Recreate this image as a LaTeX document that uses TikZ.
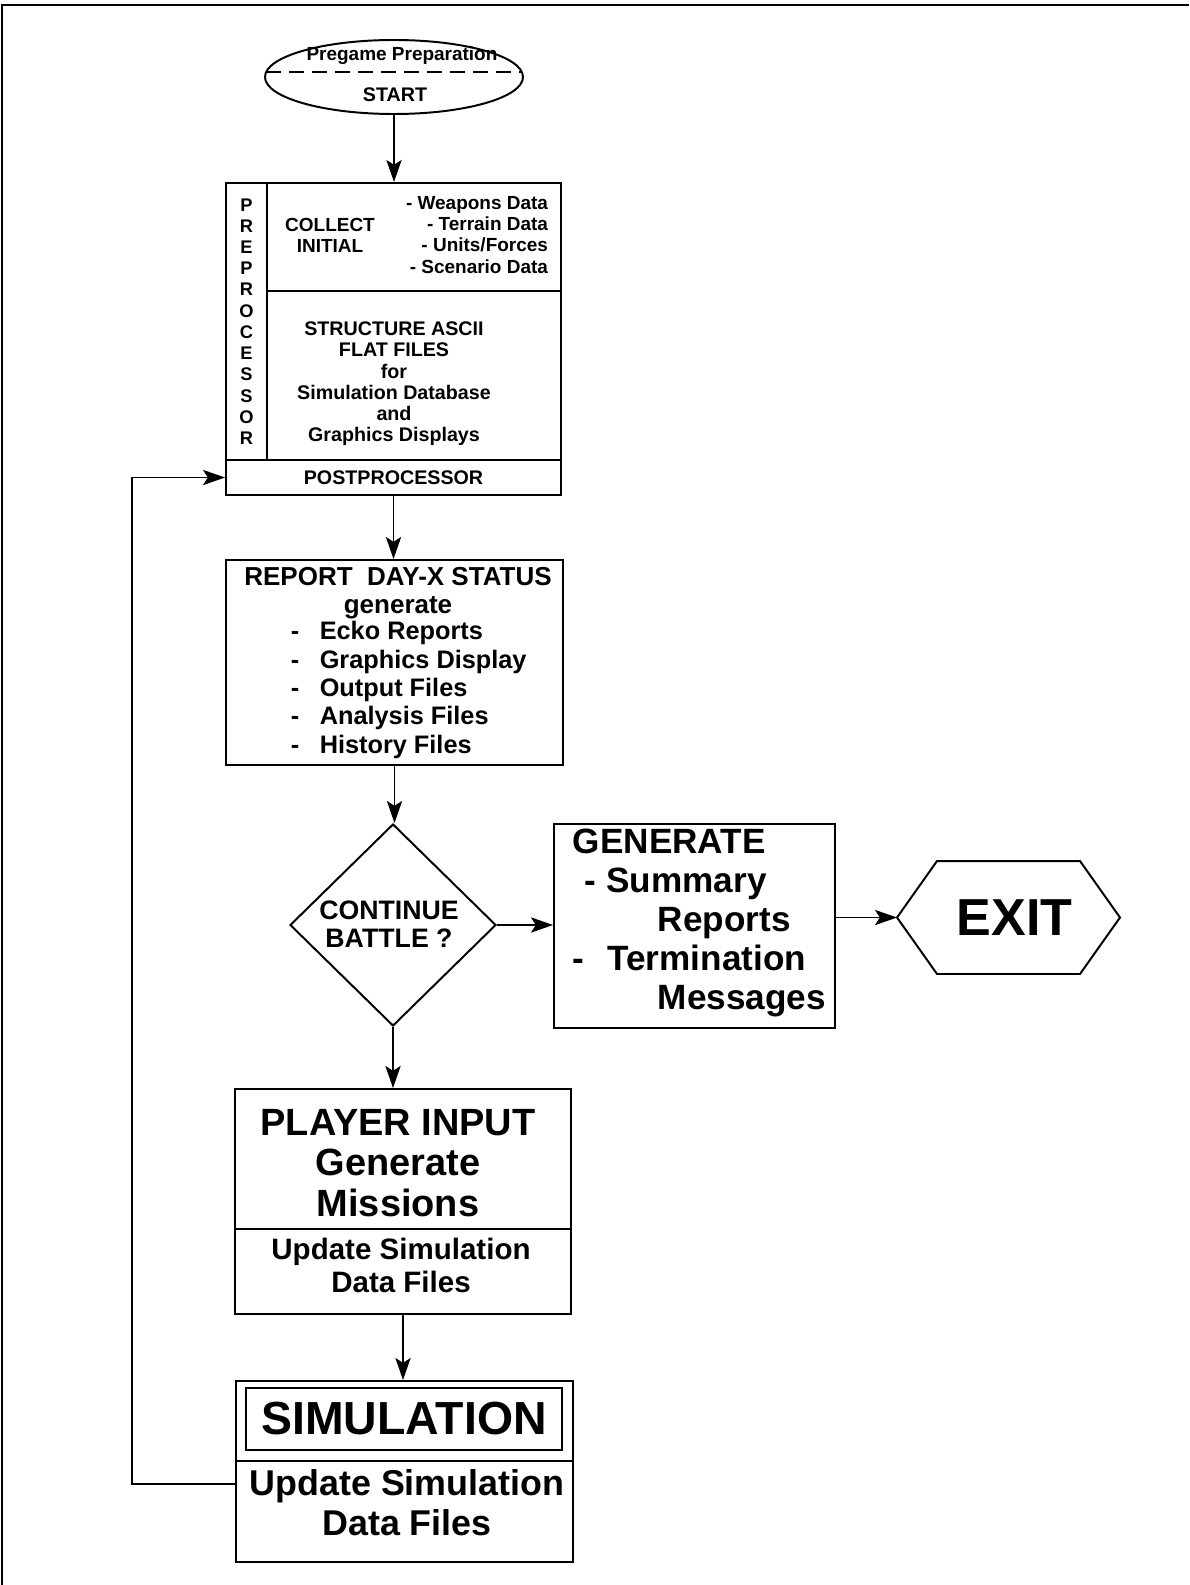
\documentclass[tikz,border=0pt]{standalone}
\usepackage{fontspec}
\setmainfont{Liberation Sans}
\usetikzlibrary{arrows.meta,shapes.geometric,calc}

\begin{document}
\begin{tikzpicture}[x=0.25mm,y=-0.25mm,
    line width=1.4pt,
    >={Stealth[length=5.5mm,width=3.8mm,inset=1.2mm]},
    box/.style={draw,rectangle,inner sep=0pt},
    txt/.style={inner sep=0pt,align=center,font=\bfseries},
    fnt/.style 2 args={font=\bfseries\fontsize{#1}{#2}\selectfont}]
    \useasboundingbox (0,0) rectangle (1189,1585);
    \draw[line width=2pt] (2,1585) -- (2,5) -- (1189,5);

    \node[draw,ellipse,inner sep=0pt,minimum width=64.5mm,minimum height=18.5mm] (ell) at (394,77) {};
    \draw[line width=0.9pt,dash pattern=on 3.75mm off 2mm] (266,72) -- (522,72);
    \node[txt,fnt={13.5}{15}] (prep) at (402,56) {Pregame Preparation};
    \node[txt,fnt={14}{15}] (start) at (395,95) {START};

    \node[box,txt,fnt={13}{15.1},minimum width=10.25mm,minimum height=69.25mm] (pcol) at (246.5,321.5) {P\\R\\E\\P\\R\\O\\C\\E\\S\\S\\O\\R};
    \node[box,minimum width=73.5mm,minimum height=27mm] (coll) at (414,237) {};
    \node[box,minimum width=73.5mm,minimum height=42.25mm] (strc) at (414,375.5) {};
    \node[box,txt,fnt={14}{15},minimum width=83.75mm,minimum height=8.75mm] (post) at (393.5,477.5) {POSTPROCESSOR};
    \node[txt,fnt={13.5}{15}] (colt) at (330,235.5) {COLLECT\\INITIAL};
    \node[txt,fnt={13.5}{15},anchor=east,align=right] (wlist) at (549,235) {- Weapons Data\\- Terrain Data\\- Units/Forces\\- Scenario Data};
    \node[txt,fnt={14}{15.1}] (stxt) at (394,384) {STRUCTURE ASCII\\FLAT FILES\\for\\Simulation Database\\and\\Graphics Displays};

    \node[box,minimum width=84.25mm,minimum height=51.25mm] (rep) at (394.5,662.5) {};
    \node[txt,fnt={18.5}{20.2}] (rtit) at (398,593) {REPORT\ \ DAY-X STATUS\\generate};
    \node[txt,fnt={18}{20.2},anchor=west,align=left] (rlist) at (290,690) {\makebox[20.5pt][l]{-}Ecko Reports\\\makebox[20.5pt][l]{-}Graphics Display\\\makebox[20.5pt][l]{-}Output Files\\\makebox[20.5pt][l]{-}Analysis Files\\\makebox[20.5pt][l]{-}History Files};

    \node[draw,diamond,inner sep=0pt,minimum width=51.5mm,minimum height=50.5mm] (dia) at (393,925) {};
    \node[txt,fnt={19}{20}] (ctxt) at (389,924) {CONTINUE\\BATTLE ?};

    \node[box,minimum width=70.25mm,minimum height=51mm] (gen) at (694.5,926) {};
    \node[txt,fnt={25}{27.8},anchor=west,align=left] (gtxt) at (572,923) {GENERATE\\\hspace*{3mm}- Summary\\\hspace*{21.25mm}Reports\\-\hspace*{3.25mm} Termination\\\hspace*{21.25mm}Messages};

    \node[txt,fnt={37}{40},minimum width=55.25mm,minimum height=27.75mm] (exit) at (1008.5,917.5) {\hspace*{3mm}EXIT};
    \draw (exit.west) -- ($(exit.north west)+(40,0)$) -- ($(exit.north east)+(-40,0)$) -- (exit.east)
        -- ($(exit.south east)+(-40,0)$) -- ($(exit.south west)+(40,0)$) -- cycle;

    \node[box,minimum width=84mm,minimum height=35mm] (plyin) at (403,1159) {};
    \node[txt,fnt={27}{29}] (plyt) at (398,1163) {PLAYER INPUT\\Generate\\Missions};
    \node[box,minimum width=84mm,minimum height=21.25mm] (plyupd) at (403,1271.5) {};
    \node[txt,fnt={21}{23.5}] (plyu) at (401,1265) {Update Simulation\\Data Files};

    \node[box,minimum width=84.25mm,minimum height=20mm] (simtop) at (404.5,1421) {};
    \node[box,txt,fnt={33}{35},minimum width=79mm,minimum height=15.5mm] (simt) at (404,1419) {SIMULATION};
    \node[box,minimum width=84.25mm,minimum height=25.25mm] (simupd) at (404.5,1511.5) {};
    \node[txt,fnt={25.5}{28.4}] (simu) at (407,1503) {Update Simulation\\Data Files};

    \draw[->] (ell.south) -- (ell.south |- coll.north);
    \draw[->] (post.south) -- (post.south |- rep.north);
    \draw[->] (rep.south) -- (rep.south |- dia.north);
    \draw[->] (dia.east) -- (dia.east -| gen.west);
    \draw[->] (gen.east |- exit.west) -- (exit.west);
    \draw[->] (dia.south) -- (dia.south |- plyin.north);
    \draw[->] (plyupd.south) -- (plyupd.south |- simtop.north);
    \draw[->] ($(simupd.west)+(0,-28)$) -- ++(-103,0) |- (post.west);
\end{tikzpicture}
\end{document}
